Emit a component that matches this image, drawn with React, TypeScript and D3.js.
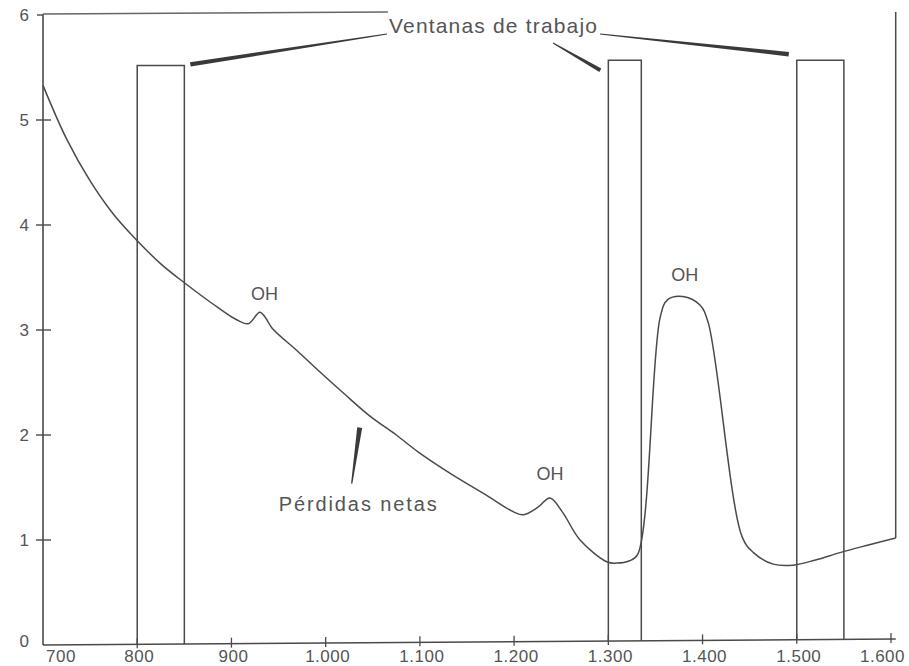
import * as d3 from "d3";
import { useEffect, useRef } from "react";

// wavelength (nm) and attenuation (dB/km)
const wavelengths = [
  700, 725, 750, 775, 800, 825, 850, 880, 905, 918, 930, 936, 943, 970, 994,
  1020, 1047, 1075, 1098, 1133, 1170, 1199, 1210, 1225, 1238, 1251, 1270,
  1299, 1309, 1322, 1331, 1355, 1363, 1379, 1397, 1406, 1442, 1454, 1475,
  1496, 1520, 1546, 1575, 1605,
];
const losses = [
  5.33, 4.82, 4.42, 4.1, 3.85, 3.63, 3.45, 3.25, 3.1, 3.06, 3.17, 3.12, 3.02,
  2.8, 2.6, 2.39, 2.18, 2.0, 1.84, 1.63, 1.43, 1.27, 1.24, 1.31, 1.4, 1.27,
  1.0, 0.79, 0.78, 0.8, 0.86, 3.12, 3.29, 3.32, 3.24, 3.07, 1.03, 0.88, 0.77,
  0.76, 0.81, 0.88, 0.95, 1.02,
];

const xTicks = [700, 800, 900, 1000, 1100, 1200, 1300, 1400, 1500, 1600];
const yTicks = [0, 1, 2, 3, 4, 5, 6];

const windowStart = [800, 1300, 1500];
const windowEnd = [850, 1335, 1550];
const windowTop = [5.52, 5.57, 5.57];

const ohLabelX = [935, 1238, 1381];
const ohLabelY = [3.29, 1.57, 3.47];

const ink = "#4a4a4a";
const textInk = "#555";
const font = "'Liberation Sans', Arial, sans-serif";

export default function App() {
  const svgRef = useRef<SVGSVGElement>(null);
  const width = 909;
  const height = 666;

  useEffect(() => {
    if (!svgRef.current) return;
    const svg = d3.select(svgRef.current);
    svg.selectAll("*").remove();

    const x = d3.scaleLinear().domain([700, 1600]).range([43, 891]);
    const y = d3.scaleLinear().domain([0, 6]).range([645, 15]);

    const locale = d3.formatLocale({
      decimal: ",",
      thousands: ".",
      grouping: [3],
      currency: ["", ""],
    });
    const fmt = locale.format(",d");

    // the scanned baseline drifts up a little towards the right
    const base = (v: number) => y(0) - (6 * (v - 700)) / 905;

    svg.append("rect").attr("width", width).attr("height", height).attr("fill", "#fff");

    const g = svg.append("g");

    // wedge-shaped leader lines (thin at the label, wide at the target)
    const wedge = (x1: number, y1: number, x2: number, y2: number, w: number) => {
      const dx = x2 - x1;
      const dy = y2 - y1;
      const len = Math.hypot(dx, dy);
      const nx = (-dy / len) * (w / 2);
      const ny = (dx / len) * (w / 2);
      const pts = [
        [x1 - nx * 0.25, y1 - ny * 0.25],
        [x2 - nx, y2 - ny],
        [x2 + nx, y2 + ny],
        [x1 + nx * 0.25, y1 + ny * 0.25],
      ];
      g.append("polygon")
        .attr("points", pts.map((p) => p.join(",")).join(" "))
        .attr("fill", "#3a3a3a");
    };

    // axes frame
    g.append("line")
      .attr("x1", x(700))
      .attr("x2", x(700))
      .attr("y1", y(6) - 1)
      .attr("y2", y(0))
      .attr("stroke", ink)
      .attr("stroke-width", 1.6);
    g.append("line")
      .attr("x1", x(700))
      .attr("x2", x(1605))
      .attr("y1", base(700))
      .attr("y2", base(1605))
      .attr("stroke", ink)
      .attr("stroke-width", 1.6);
    // top frame piece
    g.append("line")
      .attr("x1", x(700))
      .attr("x2", x(1066))
      .attr("y1", y(6) - 1)
      .attr("y2", y(6) - 3)
      .attr("stroke", "#666")
      .attr("stroke-width", 1.4);
    // right frame piece down to the end of the curve
    g.append("line")
      .attr("x1", x(1605))
      .attr("x2", x(1605))
      .attr("y1", y(6) - 3)
      .attr("y2", y(losses[losses.length - 1]))
      .attr("stroke", ink)
      .attr("stroke-width", 1.5);

    // y ticks
    yTicks.forEach((t) => {
      if (t > 0 && t < 6) {
        g.append("line")
          .attr("x1", x(700) - 7)
          .attr("x2", x(700) + 8)
          .attr("y1", y(t))
          .attr("y2", y(t))
          .attr("stroke", ink)
          .attr("stroke-width", 1.4);
      }
      g.append("text")
        .attr("x", 29)
        .attr("y", y(t))
        .attr("dy", t === 0 ? "0.1em" : "0.36em")
        .attr("text-anchor", "end")
        .style("font-family", font)
        .style("font-size", "17px")
        .style("fill", textInk)
        .text(t);
    });
    g.append("line")
      .attr("x1", x(700) - 6)
      .attr("x2", x(700))
      .attr("y1", y(6))
      .attr("y2", y(6))
      .attr("stroke", ink)
      .attr("stroke-width", 1.4);

    // x ticks
    xTicks.forEach((t, i) => {
      const yy = base(t);
      if (i > 0) {
        g.append("line")
          .attr("x1", x(t))
          .attr("x2", x(t))
          .attr("y1", yy - 6)
          .attr("y2", yy + 4)
          .attr("stroke", ink)
          .attr("stroke-width", 1.3);
      }
      const last = i === xTicks.length - 1;
      g.append("text")
        .attr("x", i === 0 ? x(t) + 18 : last ? 905 : x(t) + 2)
        .attr("y", 662)
        .attr("text-anchor", last ? "end" : "middle")
        .style("font-family", font)
        .style("font-size", "17px")
        .style("letter-spacing", "0.5px")
        .style("fill", textInk)
        .text(fmt(t));
    });

    // working windows
    windowStart.forEach((s, i) => {
      g.append("path")
        .attr(
          "d",
          `M${x(s)},${base(s)}V${y(windowTop[i])}H${x(windowEnd[i])}V${base(windowEnd[i])}`,
        )
        .attr("fill", "none")
        .attr("stroke", ink)
        .attr("stroke-width", 1.5);
    });

    // loss curve
    const line = d3
      .line<number>()
      .x((_, i) => x(wavelengths[i]))
      .y((d) => y(d))
      .curve(d3.curveCatmullRom.alpha(0.5));
    g.append("path")
      .attr("d", line(losses))
      .attr("fill", "none")
      .attr("stroke", ink)
      .attr("stroke-width", 1.5);

    // OH labels
    ohLabelX.forEach((lx, i) => {
      g.append("text")
        .attr("x", x(lx))
        .attr("y", y(ohLabelY[i]))
        .attr("text-anchor", "middle")
        .style("font-family", font)
        .style("font-size", "18px")
        .style("fill", textInk)
        .text("OH");
    });

    // Ventanas de trabajo
    const tx = 493;
    const ty = 33;
    g.append("text")
      .attr("x", tx)
      .attr("y", ty)
      .attr("text-anchor", "middle")
      .attr("textLength", 208)
      .attr("lengthAdjust", "spacing")
      .style("font-family", font)
      .style("font-size", "21px")
      .style("fill", textInk)
      .text("Ventanas de trabajo");

    wedge(tx - 106, ty + 1, x(windowEnd[0]) + 6, y(windowTop[0]) - 1, 4.5);
    wedge(tx + 60, ty + 10, x(windowStart[1]) - 8, y(windowTop[1]) + 10, 4);
    wedge(tx + 107, ty + 1, x(windowStart[2]) - 8, y(windowTop[2]) - 6, 4.5);

    // Pérdidas netas
    const px = x(1034);
    const py = y(1.28);
    g.append("text")
      .attr("x", px)
      .attr("y", py)
      .attr("text-anchor", "middle")
      .attr("textLength", 158)
      .attr("lengthAdjust", "spacing")
      .style("font-family", font)
      .style("font-size", "20px")
      .style("fill", textInk)
      .text("Pérdidas netas");
    wedge(px - 6, py - 27, px + 2, py - 83, 5);
  }, []);

  return (
    <svg
      ref={svgRef}
      width={width}
      height={height}
      style={{ position: "absolute", left: 0, top: 0, background: "#fff" }}
    />
  );
}
